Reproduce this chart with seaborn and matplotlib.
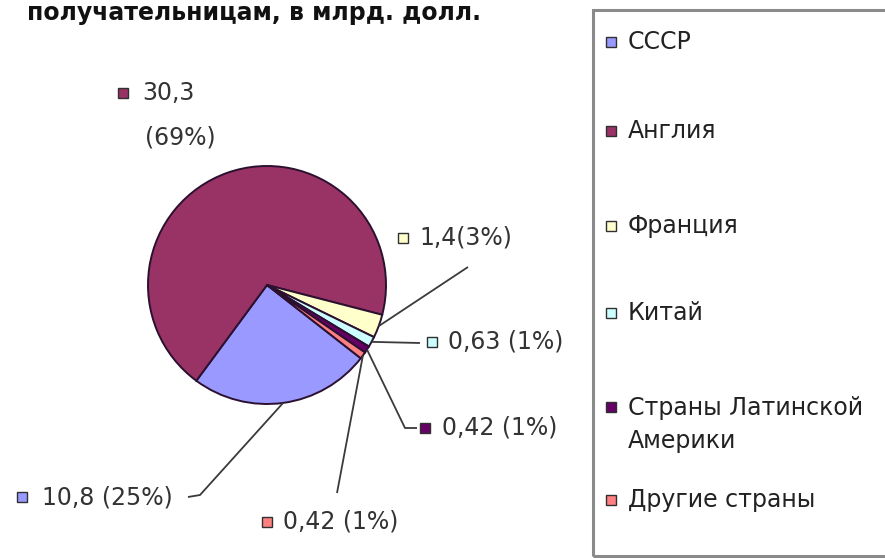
import numpy as np
import matplotlib
matplotlib.use("Agg")
import matplotlib.pyplot as plt
from matplotlib.patches import Rectangle
import seaborn as sns

# data (млрд. долл.)
countries = ["СССР", "Англия", "Франция", "Китай", "Страны Латинской\nАмерики", "Другие страны"]
values = [10.8, 30.3, 1.4, 0.63, 0.42, 0.42]
colors = ["#9999FF", "#993366", "#FFFFCC", "#CCFFFF", "#660066", "#FF8080"]
title = "получательницам, в млрд. долл."

sns.set_theme(style="white")
plt.rcParams["font.family"] = ["DejaVu Sans"]

W, H = 885, 558
fig = plt.figure(figsize=(W / 100, H / 100), dpi=100)
ax = fig.add_axes([0, 0, 1, 1])

# pixel helper: y measured from the top of the picture
def py(y):
    return H - y

cx, cy, r = 267, 285, 119
wedges, _ = ax.pie(values, colors=sns.color_palette(colors), startangle=-38, counterclock=False,
                   center=(cx, py(cy)), radius=r, frame=True,
                   wedgeprops=dict(edgecolor="#2b1030", linewidth=1.4))
ax.set_xlim(0, W)
ax.set_ylim(0, H)
ax.set_aspect("equal")
ax.axis("off")

total = sum(values)
labels = []
for v in values:
    labels.append("%s (%d%%)" % (str(v).replace(".", ","), round(v / total * 100)))
labels[2] = labels[2].replace(" ", "")

# label layout: square marker position, text start, leader line bends
lab_sq = [(22, 497), (123, 93), (403, 238), (432, 342), (425, 428), (267, 522)]
lab_tx = [42, 142, 419, 448, 442, 283]
leaders = [[(200, 495), (188, 497)], None, [(468, 267)], [(420, 343)],
           [(405, 428), (417, 428)], [(337, 493)]]

lab_font = 17
for i, w in enumerate(wedges):
    sx, sy = lab_sq[i]
    ax.plot([sx], [py(sy)], marker="s", ms=7.5, mfc=colors[i], mec="#303030", mew=1)
    if i == 1:
        num, pct = labels[i].split(" ")
        ax.text(lab_tx[i], py(sy), num, fontsize=lab_font, color="#333333", va="center", ha="left")
        ax.text(180, py(137), pct, fontsize=lab_font, color="#333333", va="center", ha="center")
    else:
        ax.text(lab_tx[i], py(sy), labels[i], fontsize=lab_font, color="#333333", va="center", ha="left")
    if leaders[i] is not None:
        ang = np.deg2rad((w.theta1 + w.theta2) / 2)
        xs = [cx + r * np.cos(ang)] + [p[0] for p in leaders[i]]
        ys = [py(cy) + r * np.sin(ang)] + [py(p[1]) for p in leaders[i]]
        ax.plot(xs, ys, color="#3a3a3a", lw=1.3, solid_capstyle="butt")

# legend box drawn in pixel coordinates, runs past the right and bottom edges
ax.add_patch(Rectangle((593, py(556)), 320, 546, fill=False, edgecolor="#8a8a8a", lw=2.2, clip_on=False))
leg_y = [42, 131, 226, 313, 407, 500]
for i, name in enumerate(countries):
    ax.plot([611], [py(leg_y[i])], marker="s", ms=7.5, mfc=colors[i], mec="#303030", mew=1)
    if "\n" in name:
        ax.text(628, py(leg_y[i]) + 11, name, fontsize=17, color="#222222", va="top", ha="left",
                linespacing=1.45)
    else:
        ax.text(628, py(leg_y[i]), name, fontsize=17, color="#222222", va="center", ha="left")

# title sits right at the top edge
ax.text(27, py(1), title, fontsize=17, fontweight="bold", color="#111111", va="top", ha="left")

fig.savefig("out.png", dpi=100)
